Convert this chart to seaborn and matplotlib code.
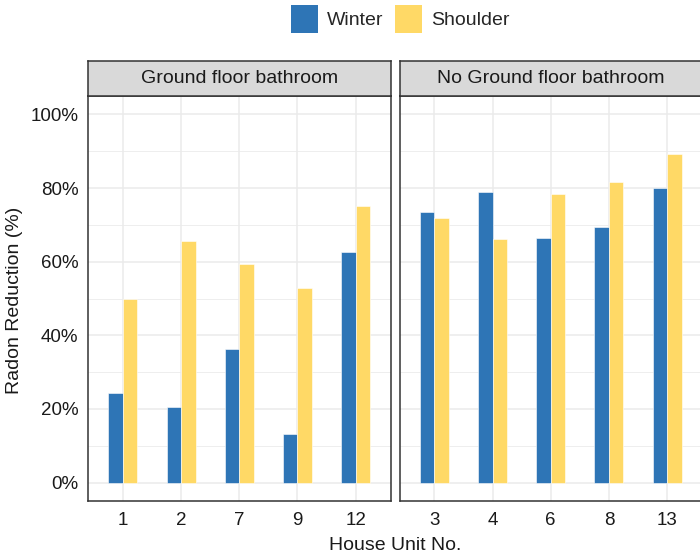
import matplotlib
matplotlib.use("Agg")
import matplotlib.pyplot as plt
from matplotlib.patches import Patch, Rectangle
from matplotlib.ticker import MultipleLocator, FuncFormatter
import seaborn as sns
import pandas as pd

sns.set_style("white")
plt.rcParams['font.family'] = ['Liberation Sans', 'DejaVu Sans']

# ---- data ----
panels = ["Ground floor bathroom", "No Ground floor bathroom"]
units_gfb = ["1", "2", "7", "9", "12"]
winter_gfb = [24.4, 20.4, 36.4, 13.3, 62.6]
shoulder_gfb = [50.0, 65.7, 59.3, 52.8, 75.2]
units_nogfb = ["3", "4", "6", "8", "13"]
winter_nogfb = [73.5, 79.0, 66.4, 69.5, 80.1]
shoulder_nogfb = [71.8, 66.1, 78.3, 81.7, 89.2]
seasons = ["Winter", "Shoulder"]
colors = {"Winter": "#2E75B6", "Shoulder": "#FFD966"}
y_ticks = [0, 20, 40, 60, 80, 100]

def frame(units, w, s):
    return pd.DataFrame({
        "unit": units + units,
        "season": ["Winter"] * len(units) + ["Shoulder"] * len(units),
        "value": w + s,
    })

dfs = [frame(units_gfb, winter_gfb, shoulder_gfb),
       frame(units_nogfb, winter_nogfb, shoulder_nogfb)]

W, H = 700, 555
fig = plt.figure(figsize=(W / 100, H / 100), dpi=100)

panel_left = [88, 399.5]
panel_w = 302.5
panel_top, panel_bottom = 96, 501
strip_top = 61
dark = "#333333"
grid_c = "#EBEBEB"

for i, (name, df) in enumerate(zip(panels, dfs)):
    ax = fig.add_axes([panel_left[i] / W, (H - panel_bottom) / H,
                       panel_w / W, (panel_bottom - panel_top) / H])
    sns.barplot(data=df, x="unit", y="value", hue="season", hue_order=seasons,
                palette=colors, width=0.5, ax=ax, legend=False,
                edgecolor="white", linewidth=0.4, saturation=1, errorbar=None)
    ax.set_xlim(-0.6, 4.6)
    ax.set_ylim(-5, 105)
    ax.set_yticks(y_ticks)
    ax.yaxis.set_minor_locator(MultipleLocator(10))
    ax.set_axisbelow(True)
    ax.grid(which="major", color=grid_c, linewidth=1.1)
    ax.grid(which="minor", axis="y", color=grid_c, linewidth=0.6)
    for sp in ax.spines.values():
        sp.set_visible(True)
        sp.set_color(dark)
        sp.set_linewidth(1.1)
    ax.set_xlabel("")
    ax.set_ylabel("")
    ax.tick_params(axis="x", length=3, width=1, color=dark, labelsize=13.5,
                   labelcolor="#1a1a1a", pad=5, which="major")
    ax.tick_params(axis="y", which="minor", length=0)
    if i == 0:
        ax.yaxis.set_major_formatter(FuncFormatter(lambda v, p: f"{int(v)}%"))
        ax.tick_params(axis="y", which="major", length=3, width=1, color=dark,
                       labelsize=13.5, labelcolor="#1a1a1a", pad=4)
    else:
        ax.tick_params(axis="y", which="major", length=0, labelleft=False)

    # strip
    sax = fig.add_axes([panel_left[i] / W, (H - panel_top) / H,
                        panel_w / W, (panel_top - strip_top) / H])
    sax.set_facecolor("#D9D9D9")
    sax.set_xticks([])
    sax.set_yticks([])
    for sp in sax.spines.values():
        sp.set_color(dark)
        sp.set_linewidth(1.1)
    sax.text(0.5, 0.5, name, ha="center", va="center", fontsize=14,
             color="#1a1a1a", transform=sax.transAxes)

fig.text(15 / W, 1 - 300 / H, "Radon Reduction (%)", rotation=90,
         ha="center", va="center", fontsize=14, color="#1a1a1a")
fig.text(395 / W, 1 - 545 / H, "House Unit No.", ha="center", va="center",
         fontsize=14, color="#1a1a1a")

handles = [Patch(facecolor=colors[s], edgecolor="none", label=s) for s in seasons]
fig.legend(handles=handles, loc="center", bbox_to_anchor=(400 / W, 1 - 19 / H),
           ncol=2, frameon=False, fontsize=14, handlelength=1.4,
           handleheight=1.8, handletextpad=0.45, columnspacing=0.6)

fig.savefig("out.png", dpi=100)
